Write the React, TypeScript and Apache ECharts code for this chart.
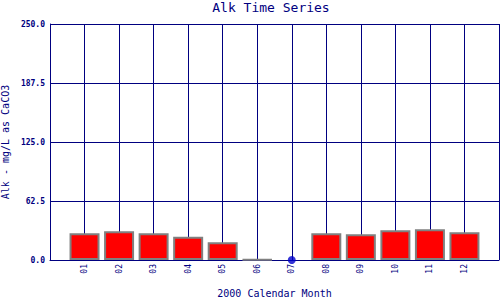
import React, { useEffect, useRef } from "react";
import * as echarts from "echarts";

const months = ["01", "02", "03", "04", "05", "06", "07", "08", "09", "10", "11", "12"];
const alkValues: (number | null)[] = [28.3, 30.4, 28.3, 24.7, 18.7, 0.5, null, 28.3, 27.2, 31.4, 32.5, 29.3];
const missingMonths = ["07"];
const yTicks = [0, 62.5, 125, 187.5, 250];

const NAVY = "#000080";
const FONT = "DejaVu Sans Mono";

export default function App() {
  const ref = useRef<HTMLDivElement>(null);
  useEffect(() => {
    if (!ref.current) return;
    const chart = echarts.init(ref.current, null, { renderer: "svg" });
    const barData = months.map((m, i) => [i + 1, alkValues[i]]);
    const missData = missingMonths.map((m) => [months.indexOf(m) + 1, 0]);
    chart.setOption({
      animation: false,
      backgroundColor: "#ffffff",
      title: {
        text: "Alk Time Series",
        left: 271,
        top: 1,
        padding: 0,
        textAlign: "center",
        textStyle: { fontFamily: FONT, fontSize: 13, fontWeight: "normal", color: NAVY },
      },
      grid: { left: 50, right: 1, top: 24, bottom: 40, containLabel: false, outerBoundsMode: "none" },
      xAxis: {
        type: "value",
        min: 0,
        max: months.length + 1,
        interval: 1,
        name: "2000 Calendar Month",
        nameLocation: "middle",
        nameGap: 28,
        nameTextStyle: { fontFamily: FONT, fontSize: 10, color: NAVY },
        axisLine: { show: true, onZero: false, lineStyle: { color: NAVY, width: 1 } },
        axisTick: { show: false },
        axisLabel: {
          rotate: 90,
          margin: 4,
          fontFamily: FONT,
          fontSize: 8,
          color: NAVY,
          formatter: (v: number) => months[v - 1] ?? "",
        },
        splitLine: { show: true, lineStyle: { color: NAVY, width: 1 } },
      },
      yAxis: {
        type: "value",
        min: yTicks[0],
        max: yTicks[yTicks.length - 1],
        interval: yTicks[1] - yTicks[0],
        name: "Alk - mg/L as CaCO3",
        nameLocation: "middle",
        nameGap: 36,
        nameRotate: 90,
        nameTextStyle: { fontFamily: FONT, fontSize: 10, color: NAVY },
        axisLine: { show: true, lineStyle: { color: NAVY, width: 1 } },
        axisTick: { show: false },
        axisLabel: {
          margin: 5,
          fontFamily: FONT,
          fontSize: 8,
          fontWeight: "bold",
          color: NAVY,
          formatter: (v: number) => v.toFixed(1),
        },
        splitLine: { show: true, lineStyle: { color: NAVY, width: 1 } },
      },
      series: [
        {
          type: "bar",
          data: barData,
          barWidth: 30,
          itemStyle: { color: "#ff0000", borderColor: "#808080", borderWidth: 2 },
        },
        {
          type: "scatter",
          data: missData,
          symbol: "circle",
          symbolSize: 8,
          clip: false,
          itemStyle: { color: "#0000cc" },
        },
      ],
    });
    return () => chart.dispose();
  }, []);
  return (
    <div
      ref={ref}
      style={{ position: "fixed", left: 0, top: 0, width: 500, height: 300 }}
    />
  );
}
